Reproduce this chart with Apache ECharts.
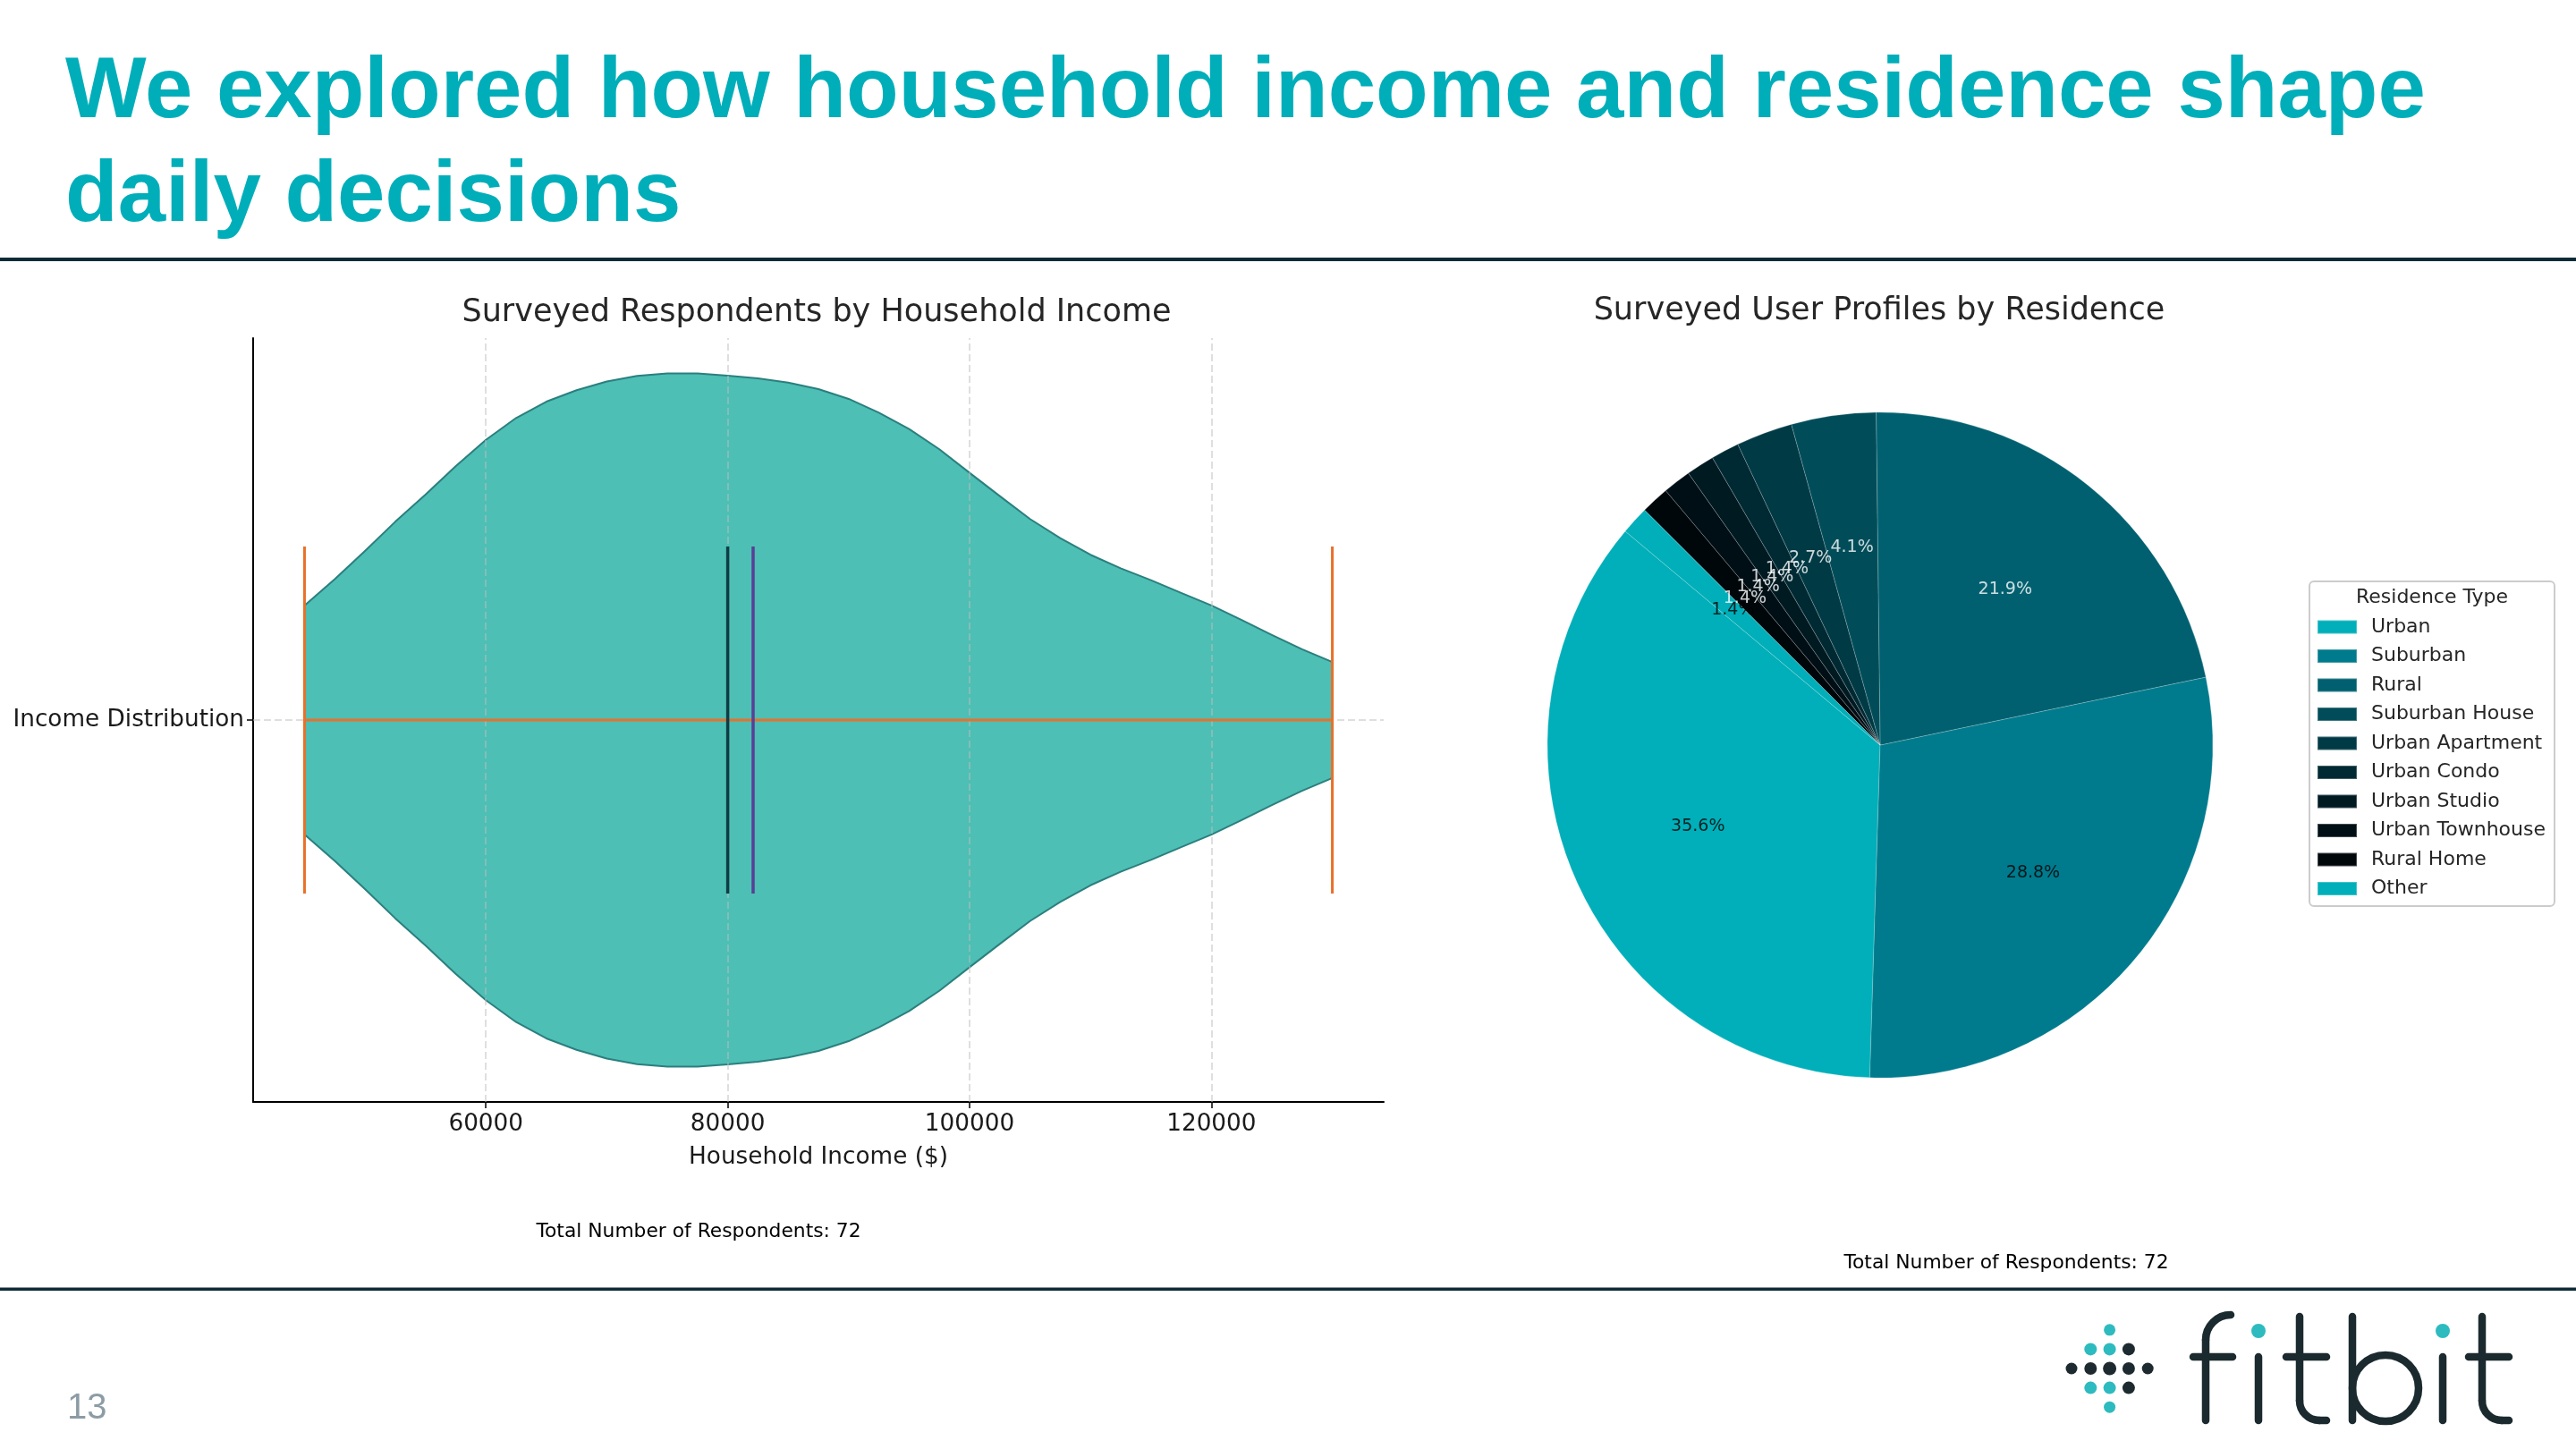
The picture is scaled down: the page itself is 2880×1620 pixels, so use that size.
<!DOCTYPE html>
<html><head><meta charset="utf-8">
<script src="https://cdn.jsdelivr.net/npm/echarts@6/dist/echarts.min.js"></script>
<style>html,body{margin:0;padding:0;background:#fff}#c{width:2880px;height:1620px}</style>
</head><body><div id="c"></div>
<script>
// ---------- data ----------
const incomeTicks = [60000, 80000, 100000, 120000];
const incomeCategory = 'Income Distribution';
const violinIncome = [45000,47500,50000,52500,55000,57500,60000,62500,65000,67500,70000,72500,75000,77500,80000,82500,85000,87500,90000,92500,95000,97500,100000,102500,105000,107500,110000,112500,115000,117500,120000,122500,125000,127500,130000];
const violinDensity = [0.330,0.406,0.487,0.571,0.649,0.731,0.807,0.870,0.917,0.950,0.975,0.991,0.998,0.998,0.992,0.984,0.972,0.953,0.925,0.885,0.838,0.780,0.712,0.645,0.579,0.524,0.476,0.437,0.403,0.366,0.330,0.288,0.245,0.204,0.167];
const incomeMin = 45000;
const incomeMax = 130000;
const incomeMedian = 80000;
const incomeMean = 82100;
const residenceTypes = ['Urban','Suburban','Rural','Suburban House','Urban Apartment','Urban Condo','Urban Studio','Urban Townhouse','Rural Home','Other'];
const residenceCounts = [26,21,16,3,2,1,1,1,1,1];
const totalRespondents = 72;

// ---------- styles ----------
const residenceColors = ['#00AFB9','#007B8D','#00606F','#004D59','#003A45','#002A33','#001A22','#000F16','#00070B','#00AFB9'];
const residenceLabelColors = ['#000','#000','#fff','#fff','#fff','#fff','#fff','#fff','#fff','#000'];
const FONT = 'DejaVu Sans';
const halfWidth = 0.25, statHalf = 0.125, pctDistance = 0.6;
const sliceTotal = residenceCounts.reduce((a,b)=>a+b,0);
let cum = 0;
const labelPoints = residenceCounts.map((c,i)=>{ const m = cum + c/2; cum += c;
  return {value:[pctDistance, m], label:{color:residenceLabelColors[i]}}; });

const chart = echarts.init(document.getElementById('c'), null, {renderer:'canvas'});

function statLine(pts, color, width, extra){
  return Object.assign({type:'line', data:pts, symbol:'none', silent:true, z:5,
    lineStyle:{color:color, width:width}}, extra||{});
}

const dots = [];
const dotTeal = '#2DBBBF', dotDark = '#1D2B30';
const dotSpec = [[0,-2,dotTeal,6.5],[-1,-1,dotTeal,7],[0,-1,dotTeal,7],[1,-1,dotDark,7],
  [-2,0,dotDark,6.5],[-1,0,dotDark,7],[0,0,dotDark,7.5],[1,0,dotDark,7],[2,0,dotDark,6.5],
  [-1,1,dotTeal,7],[0,1,dotTeal,7],[1,1,dotDark,7],[0,2,dotTeal,6.5]];
dotSpec.forEach(d=>dots.push({type:'circle', shape:{cx:2358.6+d[0]*21.3, cy:1530+d[1]*21.6, r:d[3]}, style:{fill:d[2]}}));
const LC = '#1B2A2E';
const ls = {stroke:LC, lineWidth:8.5, lineCap:'round', fill:null};
function seg(x1,y1,x2,y2){ return {type:'line', shape:{x1:x1,y1:y1,x2:x2,y2:y2}, style:ls}; }
function arc(cx,cy,r,a0,a1){ return {type:'arc', shape:{cx:cx,cy:cy,r:r,startAngle:a0,endAngle:a1,clockwise:true}, style:ls}; }
const PI = Math.PI;
const logo = [
  seg(2466,1588,2466,1498), arc(2494,1498,28,PI,PI*1.5), seg(2452,1517,2496,1517),
  seg(2525,1517,2525,1588),
  seg(2571,1472,2571,1566), arc(2593,1566,22,PI*0.5,PI), seg(2593,1588,2601,1588), seg(2556,1517,2601,1517),
  seg(2630,1472,2630,1588),
  {type:'circle', shape:{cx:2667, cy:1552, r:37}, style:{stroke:LC, lineWidth:8.5, fill:null}},
  seg(2731,1517,2731,1588),
  seg(2775,1472,2775,1566), arc(2797,1566,22,PI*0.5,PI), seg(2797,1588,2805,1588), seg(2760,1517,2805,1517),
  {type:'circle', shape:{cx:2525, cy:1488, r:8}, style:{fill:dotTeal}},
  {type:'circle', shape:{cx:2731, cy:1488, r:8}, style:{fill:dotTeal}}
];

const option = {
  animation:false,
  backgroundColor:'#ffffff',
  grid:{left:283, top:378, width:1264, height:854, containLabel:false},
  xAxis:{type:'value', min:40750, max:134250,
    axisLine:{show:true, onZero:false, lineStyle:{color:'#000', width:2}},
    axisTick:{show:true, customValues:incomeTicks, length:7, lineStyle:{color:'#000', width:1.5}},
    axisLabel:{customValues:incomeTicks, fontSize:26.3, fontFamily:FONT, color:'#1a1a1a', margin:12,
      formatter:v=>String(v)},
    splitLine:{show:false},
    name:'Household Income ($)', nameLocation:'middle', nameGap:49,
    nameTextStyle:{fontSize:26.3, fontFamily:FONT, color:'#1a1a1a'}},
  yAxis:{type:'value', min:0.725, max:1.275,
    axisLine:{show:true, onZero:false, lineStyle:{color:'#000', width:2}},
    axisTick:{show:true, customValues:[1], length:7, lineStyle:{color:'#000', width:1.5}},
    axisLabel:{customValues:[1], fontSize:26.3, fontFamily:FONT, color:'#1a1a1a', margin:10,
      formatter:v=>Math.abs(v-1)<1e-9 ? incomeCategory : ''},
    splitLine:{show:false}},
  polar:{center:[2102,833], radius:372},
  angleAxis:{type:'value', min:0, max:sliceTotal, startAngle:140, clockwise:false,
    axisLine:{show:false}, axisTick:{show:false}, axisLabel:{show:false}, splitLine:{show:false}},
  radiusAxis:{type:'value', min:0, max:1,
    axisLine:{show:false}, axisTick:{show:false}, axisLabel:{show:false}, splitLine:{show:false}},
  legend:{orient:'vertical', left:2585, top:685, itemWidth:44, itemHeight:15, itemGap:10.5,
    icon:'rect', selectedMode:false, data:residenceTypes,
    textStyle:{fontSize:22, fontFamily:FONT, color:'#262626', padding:[0,0,0,11]}},
  series:[
    {type:'custom', silent:true, z:2, data:[[violinIncome[0],1]],
      renderItem:function(params, api){
        const top=[], bot=[];
        for(let i=0;i<violinIncome.length;i++){
          top.push(api.coord([violinIncome[i], 1 + violinDensity[i]*halfWidth]));
          bot.push(api.coord([violinIncome[i], 1 - violinDensity[i]*halfWidth]));
        }
        return {type:'polygon', shape:{points:top.concat(bot.reverse())},
          style:{fill:'#4DBFB5', stroke:'#2B7F7E', lineWidth:2, lineJoin:'round'}};
      }},
    {type:'line', data:[], silent:true, z:3, symbol:'none',
      markLine:{silent:true, z:3, symbol:['none','none'], label:{show:false},
        lineStyle:{color:'rgba(190,190,190,0.65)', width:1.5, type:[8,4]},
        emphasis:{disabled:true},
        data:incomeTicks.map(v=>({xAxis:v})).concat([{yAxis:1}])}},
    statLine([[incomeMin,1],[incomeMax,1]], '#E8712B', 3, {z:5}),
    statLine([[incomeMin,1-statHalf],[incomeMin,1+statHalf]], '#E8712B', 3),
    statLine([[incomeMax,1-statHalf],[incomeMax,1+statHalf]], '#E8712B', 3),
    statLine([[incomeMedian,1-statHalf],[incomeMedian,1+statHalf]], '#0F3C44', 3.5, {z:6}),
    statLine([[incomeMean,1-statHalf],[incomeMean,1+statHalf]], '#5A3E96', 3.5, {z:6}),
    {type:'pie', center:[2102,833], radius:372, startAngle:140, clockwise:false, silent:true, z:2,
      label:{show:false}, labelLine:{show:false}, emphasis:{disabled:true},
      itemStyle:{borderWidth:0.8, borderColor:'rgba(255,255,255,0.25)'},
      data:residenceTypes.map((n,i)=>({name:n, value:residenceCounts[i], itemStyle:{color:residenceColors[i]}}))},
    {type:'scatter', coordinateSystem:'polar', silent:true, z:10, symbolSize:2,
      itemStyle:{color:'rgba(0,0,0,0)'}, emphasis:{disabled:true},
      label:{show:true, position:'inside', fontSize:19, fontFamily:FONT,
        formatter:p=>(residenceCounts[p.dataIndex]/sliceTotal*100).toFixed(1)+'%'},
      labelLayout:{hideOverlap:false},
      data:labelPoints}
  ],
  graphic:[
    {type:'text', x:73, y:153, style:{text:'We explored how household income and residence shape', fill:'#00AEB9',
      fontSize:96, fontWeight:'bold', fontFamily:'Liberation Sans', textVerticalAlign:'bottom'}},
    {type:'text', x:73, y:269, style:{text:'daily decisions', fill:'#00AEB9',
      fontSize:96, fontWeight:'bold', fontFamily:'Liberation Sans', textVerticalAlign:'bottom'}},
    {type:'rect', shape:{x:0, y:288, width:2880, height:4}, style:{fill:'#0B2B36'}},
    {type:'rect', shape:{x:0, y:1439.5, width:2880, height:3.5}, style:{fill:'#0E2C38'}},
    {type:'text', x:913, y:350, style:{text:'Surveyed Respondents by Household Income', fill:'#262626',
      fontSize:35, fontFamily:FONT, textAlign:'center', textVerticalAlign:'middle'}},
    {type:'text', x:2101, y:348, style:{text:'Surveyed User Profiles by Residence', fill:'#262626',
      fontSize:35, fontFamily:FONT, textAlign:'center', textVerticalAlign:'middle'}},
    {type:'text', x:781, y:1377, style:{text:'Total Number of Respondents: '+totalRespondents, fill:'#000',
      fontSize:21.8, fontFamily:FONT, textAlign:'center', textVerticalAlign:'middle'}},
    {type:'text', x:2243, y:1412, style:{text:'Total Number of Respondents: '+totalRespondents, fill:'#000',
      fontSize:21.8, fontFamily:FONT, textAlign:'center', textVerticalAlign:'middle'}},
    {type:'rect', shape:{x:2582, y:650, width:274, height:363, r:5}, z:-1,
      style:{fill:'rgba(255,255,255,0.85)', stroke:'#cccccc', lineWidth:2}},
    {type:'text', x:2719, y:668, style:{text:'Residence Type', fill:'#262626',
      fontSize:22, fontFamily:FONT, textAlign:'center', textVerticalAlign:'middle'}},
    {type:'text', x:75, y:1595, style:{text:'13', fill:'#8C9CA6',
      fontSize:40, fontFamily:'Liberation Sans', textVerticalAlign:'bottom'}}
  ].concat(dots).concat(logo)
};
chart.setOption(option);
</script></body></html>
